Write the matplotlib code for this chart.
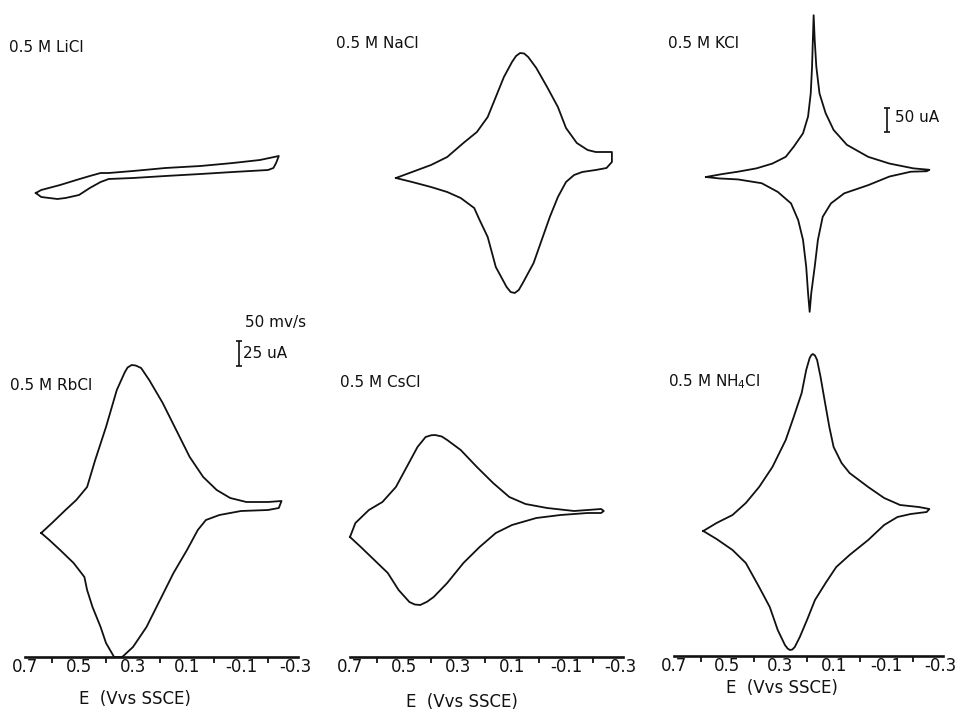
import matplotlib.pyplot as plt

# cyclic voltammograms, 50 mV/s, E in V vs SSCE, current in uA
licl_E = [0.66, 0.64, 0.57, 0.51, 0.46, 0.42, 0.39, 0.30, 0.18, 0.05, -0.07, -0.17, -0.24,
          -0.23, -0.22, -0.20, -0.07, 0.05, 0.18, 0.30, 0.39, 0.42, 0.46, 0.50, 0.55, 0.58, 0.64, 0.66]
licl_I = [-18, -15, -10, -5, -1, 2, 2, 4, 7, 9, 12, 15, 19,
          12, 7, 5, 3, 1, -1, -3, -4, -7, -13, -20, -23, -24, -22, -18]

nacl_E = [0.53, 0.47, 0.40, 0.34, 0.28, 0.23, 0.19, 0.16, 0.13, 0.10, 0.085, 0.07, 0.055, 0.04,
          0.01, -0.03, -0.07, -0.10, -0.14, -0.18, -0.21, -0.27, -0.27, -0.25, -0.21, -0.16,
          -0.13, -0.10, -0.07, -0.04, -0.01, 0.02, 0.06, 0.075, 0.09, 0.105, 0.12, 0.16, 0.19,
          0.22, 0.24, 0.29, 0.34, 0.40, 0.47, 0.53]
nacl_I = [0, 6, 13, 21, 35, 46, 61, 81, 101, 116, 122, 125, 124.5, 121,
          110, 91, 71, 50, 35, 28, 26, 26, 16, 10, 8, 6,
          3, -4, -19, -39, -62, -85, -105, -112, -115, -114, -109, -89, -59,
          -42, -30, -20, -14, -9, -4, 0]

kcl_E = [0.58, 0.52, 0.46, 0.39, 0.33, 0.28, 0.25, 0.215, 0.196, 0.186, 0.181, 0.178, 0.175,
         0.171, 0.165, 0.153, 0.13, 0.10, 0.05, -0.03, -0.11, -0.20, -0.26,
         -0.25, -0.19, -0.11, -0.03, 0.06, 0.11, 0.141, 0.159, 0.171, 0.184, 0.19,
         0.196, 0.203, 0.215, 0.233, 0.26, 0.31, 0.37, 0.46, 0.53, 0.58]
kcl_I = [0, 6, 11, 18, 28, 42, 63, 91, 126, 174, 230, 285, 337,
         285, 230, 174, 133, 98, 67, 42, 28, 18, 15,
         12, 11, 1, -17, -34, -55, -83, -131, -187, -242, -281,
         -242, -187, -131, -90, -55, -31, -13, -5, -3, 0]

rbcl_E = [0.64, 0.60, 0.55, 0.51, 0.47, 0.44, 0.40, 0.36, 0.33, 0.32, 0.305, 0.29, 0.27, 0.24,
          0.19, 0.14, 0.09, 0.04, -0.01, -0.06, -0.12, -0.20, -0.25, -0.24, -0.20, -0.10,
          -0.02, 0.03, 0.06, 0.10, 0.15, 0.20, 0.25, 0.30, 0.34, 0.355, 0.37, 0.40, 0.42,
          0.45, 0.47, 0.48, 0.52, 0.57, 0.61, 0.64]
rbcl_I = [0, 10, 23, 33, 46, 73, 106, 143, 161, 165.5, 168, 167.5, 165, 153,
          130, 103, 76, 56, 43, 35, 31, 31, 32, 25, 23, 22,
          18, 13, 3, -17, -40, -67, -94, -114, -124, -124, -124, -110, -94,
          -74, -57, -44, -30, -17, -7, 0]

cscl_E = [0.70, 0.68, 0.63, 0.58, 0.53, 0.49, 0.45, 0.42, 0.40, 0.385, 0.36, 0.34, 0.29, 0.23,
          0.17, 0.11, 0.05, -0.03, -0.13, -0.23, -0.24, -0.23, -0.18, -0.08, 0.01, 0.10,
          0.16, 0.22, 0.28, 0.34, 0.39, 0.415, 0.44, 0.46, 0.48, 0.52, 0.56, 0.61, 0.66, 0.70]
cscl_I = [0, 14, 27, 35, 50, 70, 90, 100, 101.7, 102, 100.5, 97, 87, 70,
          54, 40, 33, 29, 26, 28, 26, 24, 24, 22, 19, 12,
          4, -10, -26, -46, -60, -64.8, -68, -67.5, -65, -53, -36, -23, -10, 0]

nh4cl_E = [0.59, 0.54, 0.48, 0.43, 0.38, 0.33, 0.28, 0.25, 0.22, 0.203, 0.19, 0.184, 0.178,
           0.17, 0.162, 0.149, 0.134, 0.116, 0.10, 0.07, 0.04, -0.03, -0.09, -0.15, -0.22,
           -0.26, -0.25, -0.19, -0.14, -0.09, -0.03, 0.04, 0.09, 0.13, 0.17, 0.20, 0.227,
           0.246, 0.255, 0.264, 0.273, 0.283, 0.31, 0.34, 0.38, 0.43, 0.48, 0.54, 0.59]
nh4cl_I = [0, 8, 16, 28, 44, 64, 91, 114, 138, 161, 173, 175.8, 177,
           175.5, 171, 154, 131, 104, 84, 68, 58, 44, 33, 26, 24,
           22, 19, 17, 14, 6, -9, -24, -36, -52, -69, -89, -106,
           -116, -118.5, -119, -117.5, -114, -99, -76, -56, -32, -19, -8, 0]

E_ticks = [0.7, 0.5, 0.3, 0.1, -0.1, -0.3]
E_labels = ['0.7', '0.5', '0.3', '0.1', '-0.1', '-0.3']
E_minor = [0.6, 0.4, 0.2, 0.0, -0.2]

ink = '#111111'
W, H = 957, 713
fig = plt.figure(figsize=(W / 100, H / 100), dpi=100)


def panel(x0, pxv, ytop, ybot, y0, k, axis=False):
    # x0: pixel column of 0.7 V, pxv: pixels per volt,
    # y0: pixel row of zero current, k: uA per pixel
    ax = fig.add_axes([x0 / W, 1 - ybot / H, 1.01 * pxv / W, (ybot - ytop) / H])
    ax.set_xlim(0.7, -0.31)
    ax.set_ylim((y0 - ybot) * k, (y0 - ytop) * k)
    ax.patch.set_visible(False)
    for s in ['left', 'right', 'top']:
        ax.spines[s].set_visible(False)
    ax.set_yticks([])
    if axis:
        ax.spines['bottom'].set_linewidth(1.9)
        ax.spines['bottom'].set_color(ink)
        ax.set_xticks(E_ticks)
        ax.set_xticklabels(E_labels, fontsize=12, color=ink)
        ax.set_xticks(E_minor, minor=True)
        ax.tick_params(axis='x', which='major', length=0, pad=1)
        ax.tick_params(axis='x', which='minor', length=4, width=1.3, color=ink)
    else:
        ax.spines['bottom'].set_visible(False)
        ax.set_xticks([])
    return ax


ax_li = panel(25, 270, 5, 320, 175, 1.0)
ax_na = panel(350, 270, 5, 320, 178, 1.0)
ax_k = panel(674, 266, 5, 320, 177, 50 / 24)
ax_rb = panel(25, 270, 300, 657, 533, 1.0, axis=True)
ax_cs = panel(350, 270, 300, 657, 537, 1.0, axis=True)
ax_nh = panel(674, 266, 300, 656, 531, 1.0, axis=True)

for ax, E, I in [(ax_li, licl_E, licl_I), (ax_na, nacl_E, nacl_I), (ax_k, kcl_E, kcl_I),
                 (ax_rb, rbcl_E, rbcl_I), (ax_cs, cscl_E, cscl_I), (ax_nh, nh4cl_E, nh4cl_I)]:
    ax.plot(E, I, color=ink, lw=1.3, solid_joinstyle='round', clip_on=False)

# current scale bars
ax_rb.errorbar(-0.093, 179.5, yerr=12.5, color=ink, lw=1.2, capsize=2, capthick=1.2, clip_on=False)
ax_k.errorbar(-0.1, 118.7, yerr=25, color=ink, lw=1.2, capsize=2, capthick=1.2, clip_on=False)


def ftext(x, y, s, **kw):
    fig.text(x / W, 1 - y / H, s, va='center', color=ink, **kw)


ftext(9, 48, '0.5 M LiCl', fontsize=11)
ftext(336, 43, '0.5 M NaCl', fontsize=11)
ftext(668, 43, '0.5 M KCl', fontsize=11)
ftext(10, 385, '0.5 M RbCl', fontsize=11)
ftext(340, 382, '0.5 M CsCl', fontsize=11)
ftext(668, 382, '0.5 M NH$_4$Cl', fontsize=11)
ftext(245, 322, '50 mv/s', fontsize=11)
ftext(243, 353, '25 uA', fontsize=11)
ftext(895, 117, '50 uA', fontsize=11)

for xc, yc in [(135, 699), (462, 702), (782, 688)]:
    ftext(xc, yc, 'E  (Vvs SSCE)', fontsize=12, ha='center')

fig.savefig('out.png', dpi=100, facecolor='white')
